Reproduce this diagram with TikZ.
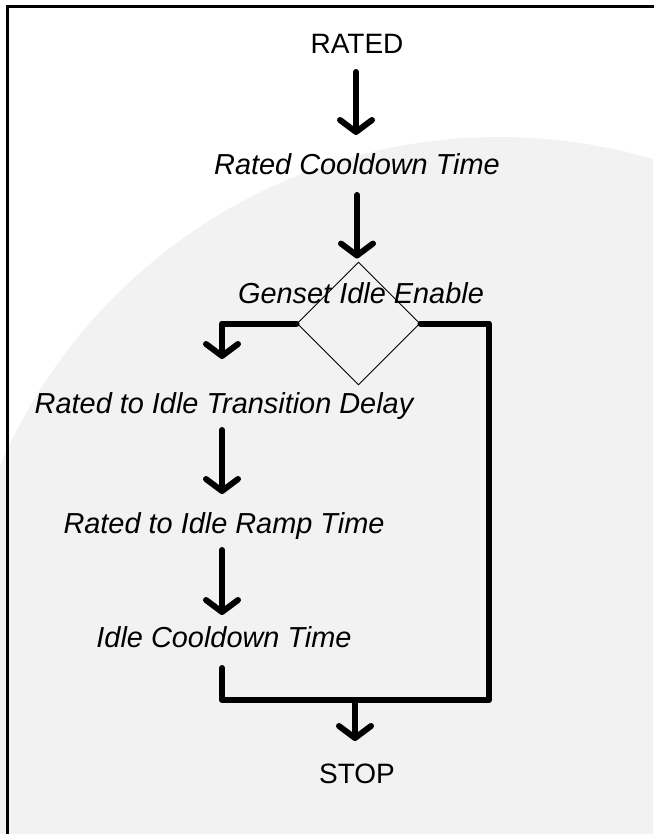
\documentclass[tikz,border=0pt]{standalone}
\usepackage{fontspec}
\setmainfont{Liberation Sans}
\usetikzlibrary{arrows.meta,shapes.geometric,calc}
\definecolor{wmgray}{RGB}{242,242,242}
\begin{document}
\begin{tikzpicture}[x=1pt,y=-1pt,
  lbl/.style={inner sep=0pt,outer sep=0pt,anchor=base,text height=20pt,text depth=0pt,
              font=\fontsize{28.9}{32}\selectfont\itshape},
  ttl/.style={inner sep=0pt,outer sep=0pt,anchor=base,text height=20pt,text depth=0pt,
              font=\fontsize{28}{32}\selectfont},
  thk/.style={line width=6pt,line cap=round,line join=round},
  arr/.style={thk,-{Straight Barb[length=12pt,width=32pt,round]}},
  dec/.style={draw,shape=diamond,line width=0.9pt,inner sep=0pt,minimum width=123pt,minimum height=123pt,aspect=1}
]
\useasboundingbox (0,0) rectangle (653,834);
% watermark background
\begin{scope}
\clip (0,0) rectangle (653,834);
\fill[wmgray] (499,680) circle (543);
\end{scope}
% frame
\draw[line width=3pt] (7.5,850) -- (7.5,6.5) -- (670,6.5);

% nodes
\node[ttl] (rated) at (357,54) {RATED};
\node[lbl] (rcd) at (357,175) {Rated Cooldown Time};
\node[dec] (dia) at (358.5,323.5) {};
\node[lbl] (gie) at (361,303) {Genset Idle Enable};
\node[lbl] (rtid) at (224,413) {Rated to Idle Transition Delay};
\node[lbl] (ramp) at (224,533) {Rated to Idle Ramp Time};
\node[lbl] (icd) at (224,647) {Idle Cooldown Time};
\node[ttl] (stop) at (357,783) {STOP};
\coordinate (br) at (489,700);

% connectors
\draw[arr,shorten <=18pt,shorten >=20pt] ($(rated.south)+(-1,0)$) -- ($(rated.south |- rcd.north)+(-1,0)$);
\draw[arr,shorten <=20pt,shorten >=3pt] ($(rcd.south)+(0,0)$) -- ($(rcd.south |- dia.north)+(0,0)$);
\draw[arr,shorten >=34pt] (dia.west) -| ($(rtid.north)+(-2,0)$);
\draw[arr,shorten <=17pt,shorten >=19pt] ($(rtid.south)+(-2,0)$) -- ($(ramp.north)+(-2,0)$);
\draw[arr,shorten <=17pt,shorten >=12pt] ($(ramp.south)+(-2,0)$) -- ($(icd.north)+(-2,0)$);
\draw[thk] (dia.east) -| (br) -| ($(icd.south)+(-2,21)$);
\draw[arr,shorten >=22pt] ($(stop.north |- br)+(-2,0)$) -- ($(stop.north)+(-2,0)$);
\end{tikzpicture}
\end{document}
